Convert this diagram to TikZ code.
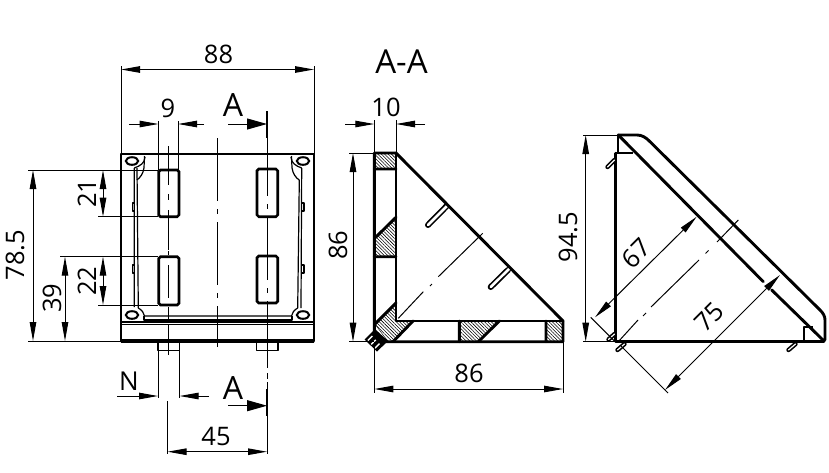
\documentclass[tikz,border=0pt]{standalone}
\usepackage{fontspec}
\setmainfont{Open Sans}
\usetikzlibrary{arrows.meta,patterns.meta}
\tikzset{
 outline/.style={line width=2.9pt,line join=round,line cap=round},
 thinl/.style={line width=1.2pt,line join=round},
 ext/.style={line width=1pt},
 centre/.style={line width=1pt},
 dimb/.style={line width=1pt,{Triangle[length=19pt,width=6.5pt]}-{Triangle[length=19pt,width=6.5pt]}},
 dimr/.style={line width=1pt,-{Triangle[length=19pt,width=6.5pt]}},
 cut/.style={line width=1pt,-{Triangle[length=20pt,width=11pt]}},
 tick/.style={line width=2.8pt},
 hatch/.style={pattern={Lines[angle=-45,distance=2.4pt,line width=.55pt]},pattern color=black},
 lab/.style={font=\fontsize{25.5}{25.5}\selectfont,inner sep=0pt},
 labA/.style={font=\fontsize{32}{32}\selectfont,inner sep=0pt},
 labN/.style={font=\fontsize{26}{26}\selectfont,inner sep=0pt},
 slot/.style={line width=2.6pt,rounded corners=1.8pt},
 hole/.style={line width=2pt},
 rib/.style={line width=6pt,line cap=round},
 ribw/.style={line width=2.6pt,line cap=round,white}
}
\begin{document}
\begin{tikzpicture}[x=1pt,y=-1pt]
\useasboundingbox (0,0) rectangle (829,472);
\fill[white] (0,0) rectangle (829,472);

%% ------- front view -------
\draw[outline] (121,341) -- (121,154) -- (314,154) -- (314,341);
\draw[line width=4.4pt] (121,341) -- (314,341);
\draw[thinl] (122,322) -- (313,322) (122,324.5) -- (313,324.5);
\foreach \cx/\cy in {132/161,303/161,132/315,303/315}
  \draw[hole] (\cx,\cy) ellipse (6.2 and 3.8);
% inner walls left
\draw[thinl] (134.3,168) -- (134.3,307) (137,168) -- (138.3,308);
\draw[thinl] (145,157) .. controls (145,163) and (140,166) .. (134.3,168);
\draw[thinl] (144.5,156) -- (144,168) .. controls (143,174) and (140,178) .. (136.7,180);
\draw[thinl] (132.3,203) rectangle (134.3,211) (132.3,265) rectangle (134.3,273);
% inner walls right
\draw[thinl] (301.7,168) -- (301,308) (299.3,180) -- (297.7,308);
\draw[thinl] (291,157) .. controls (291,163) and (296,166) .. (301.7,168);
\draw[thinl] (291.5,156) -- (292,168) .. controls (293,174) and (296,178) .. (299.3,180);
\draw[thinl] (301.7,203) rectangle (304,211) (301.7,265) rectangle (304,273);
% inner bottom
\draw[thinl] (138.3,308) .. controls (142,310) and (144,313) .. (144.5,316) -- (291.5,316) .. controls (292,313) and (294,310) .. (297.7,308);
\draw[thinl] (144,316) -- (144,320) -- (292,320) -- (292,316);
% slots
\draw[slot] (158.7,170) rectangle (179,216.7);
\draw[slot] (158.7,256.7) rectangle (179,305);
\draw[slot] (257,169) rectangle (277.7,216.7);
\draw[slot] (257,256) rectangle (277.7,303);
% bolts
\draw[thinl] (158,342) -- (158,350.5) -- (179.6,350.5) -- (179.6,342);
\draw[thinl] (256.3,342) -- (256.3,350.5) -- (278,350.5) -- (278,342);
% centre lines
\draw[centre] (168.7,146) -- (168.7,185) (168.7,194) -- (168.7,200) (168.7,210) -- (168.7,250) (168.7,251) -- (168.7,255)
  (168.7,265) -- (168.7,298) (168.7,307) -- (168.7,319) (168.7,324) -- (168.7,355);
\draw[centre] (217.7,138) -- (217.7,201) (217.7,209) -- (217.7,214) (217.7,222) -- (217.7,285) (217.7,293) -- (217.7,298) (217.7,306) -- (217.7,347);
\draw[centre] (267,138) -- (267,196) (267,204) -- (267,209) (267,217) -- (267,280) (267,288) -- (267,293) (267,301) -- (267,368) (267,373) -- (267,379) (267,382) -- (267,389);
% dims front
\draw[ext] (121,66) -- (121,154) (314,66) -- (314,154);
\draw[dimb] (121,69.5) -- (314,69.5);
\node[lab] (t88) at (218.5,54) {88};
\draw[ext] (158.5,121) -- (158.5,170) (178,121) -- (178,170);
\draw[dimr] (129,124) -- (158.5,124);
\draw[dimr] (204,124) -- (178,124);
\node[lab] (t9) at (168,108) {9};
\node[labA] (tA1) at (233,105) {A};
\draw[cut] (228,124) -- (267,124);
\draw[tick] (267,111) -- (267,138);
\draw[ext] (28,170) -- (158,170) (28,341) -- (121,341);
\draw[dimb] (33,170) -- (33,341);
\node[lab,rotate=90] (t785) at (15,255) {78.5};
\draw[ext] (60,256.7) -- (158,256.7);
\draw[dimb] (65,256.7) -- (65,341);
\node[lab,rotate=90] (t39) at (52,298) {39};
\draw[ext] (98,216.7) -- (158,216.7) (98,305) -- (158,305);
\draw[dimb] (103,170) -- (103,216.7);
\draw[dimb] (103,256.7) -- (103,305);
\node[lab,rotate=90] (t21) at (87,193) {21};
\node[lab,rotate=90] (t22) at (87,281) {22};
\draw[ext] (158,350) -- (158,398) (179.6,350) -- (179.6,398);
\draw[dimr] (117,396) -- (158,396);
\draw[dimr] (209,396) -- (179.6,396);
\node[labN] (tN) at (129,381) {N};
\node[labA] (tA2) at (233,388) {A};
\draw[cut] (228,405.7) -- (267,405.7);
\draw[tick] (267,389) -- (267,416);
\draw[ext] (167.5,401) -- (167.5,454) (267,416) -- (267,454);
\draw[dimb] (167.5,451.7) -- (267,451.7);
\node[lab] (t45) at (216,436) {45};

%% ------- section A-A -------
\node[inner sep=0pt,font=\fontsize{33}{33}\selectfont] (tAA) at (401.5,62) {A-A};
\draw[hatch] (374.3,153) rectangle (396,169);
\draw[hatch] (374.3,256.7) -- (396,256.7) -- (396,217.3) -- (374.3,238.6) -- cycle;
\draw[hatch] (375,324) -- (396,303) -- (396,321) -- (413,321) -- (393,341.7) -- (388,341.7) -- cycle;
\draw[hatch] (459.3,341.7) -- (459.3,321) -- (499.3,321) -- (478.3,341.7) -- cycle;
\draw[hatch] (546,321) rectangle (563,341.7);
% ribs
\draw[rib] (446.7,206) -- (428,225);
\draw[ribw] (449,204) -- (428,225);
\draw[rib] (508,270) -- (490.7,287);
\draw[ribw] (510,268) -- (490.7,287);
% outline section
\draw[outline] (374.3,153) -- (396,153) -- (563,321) -- (563,341.7) -- (374.3,341.7) -- cycle;
\draw[outline] (396,153) -- (396,321) -- (563,321);
\draw[outline] (374.3,169) -- (396,169) (374.3,256.7) -- (396,256.7) (374.3,238.6) -- (396,217.3) (375,324) -- (396,303)
  (413,321) -- (393,341.7) (459.3,321) -- (459.3,341.7) (499.3,321) -- (478.3,341.7) (546,321) -- (546,341.7);
% bolt stub
\fill[black,line join=round] (375,329) -- (364.5,339.5) -- (377,351.5) -- (388,341) -- cycle;
\draw[white,line width=1.4pt] (367.8,340.5) -- (372.3,336) (371.3,344.3) -- (375.8,339.8) (375,348) -- (379.5,343.5);
\draw[line width=1pt] (374.3,341.7) -- (374.3,356);
\draw[centre] (482.7,233.3) -- (438.3,276.7) (432,284) -- (430,286) (423.3,291.7) -- (398.3,318.3);
% dims A-A
\draw[ext] (374.3,120) -- (374.3,153) (396,120) -- (396,153);
\draw[dimr] (345,124) -- (374.3,124);
\draw[dimr] (425,124) -- (396,124);
\node[lab] (t10) at (386,107) {10};
\draw[ext] (349,153) -- (374.3,153) (349,341.7) -- (374.3,341.7);
\draw[dimb] (353,153) -- (353,341.7);
\node[lab,rotate=90] (t86a) at (338,245) {86};
\draw[ext] (374.3,341.7) -- (374.3,393) (563,341.7) -- (563,393);
\draw[dimb] (374.3,389) -- (563,389);
\node[lab] (t86b) at (469,373) {86};

%% ------- side view -------
\draw[outline] (615.7,153.3) -- (615.7,341.7) -- (824,341.7);
\draw[outline] (618.3,135) -- (763.3,281.7) (771.7,290) -- (824,341);
\draw[outline] (618.3,135) -- (637,135) .. controls (642,135) and (646,137.5) .. (650,141.7) -- (820,310) .. controls (823,313) and (825,316) .. (825,320) -- (825,340);
\draw[thinl,line width=1.8pt] (618.3,135) -- (618.3,153.3) (615.7,153.3) -- (633,153.3);
\draw[thinl,line width=1.8pt] (804.3,341) -- (804.3,326.7) -- (813,326.7);
\foreach \xa/\ya/\xb/\yb in {607.5/167/614.5/160, 608.5/339.5/614.5/334, 617.5/350/624.5/344, 788.5/350/795.5/344}{
  \draw[line width=4.4pt,line cap=round] (\xa,\ya) -- (\xb,\yb);
  \draw[white,line width=1.2pt,line cap=round] (\xa,\ya) -- (\xb,\yb);
}
\draw[centre] (738.3,220) -- (717,242);
\draw[centre] (708.5,250.5) -- (705.5,253.5) (699,260) -- (651,307) (646,313) -- (643,316) (638,320) -- (618.3,341.7);
% dims side
\draw[ext] (583,135) -- (618.3,135) (583,341.7) -- (616,341.7);
\draw[dimb] (585.7,135) -- (585.7,341.7);
\node[lab,rotate=90] (t945) at (568,237) {94.5};
\draw[ext] (590.7,317.3) -- (615,341.7);
\draw[dimb] (595,317.3) -- (696.7,216.7);
\node[lab,rotate=45] (t67) at (636.5,253.5) {67};
\draw[ext] (620,345) -- (668,393);
\draw[dimb] (665,390) -- (780,275);
\node[lab,rotate=45] (t75) at (709,317) {75};
\end{tikzpicture}
\end{document}
